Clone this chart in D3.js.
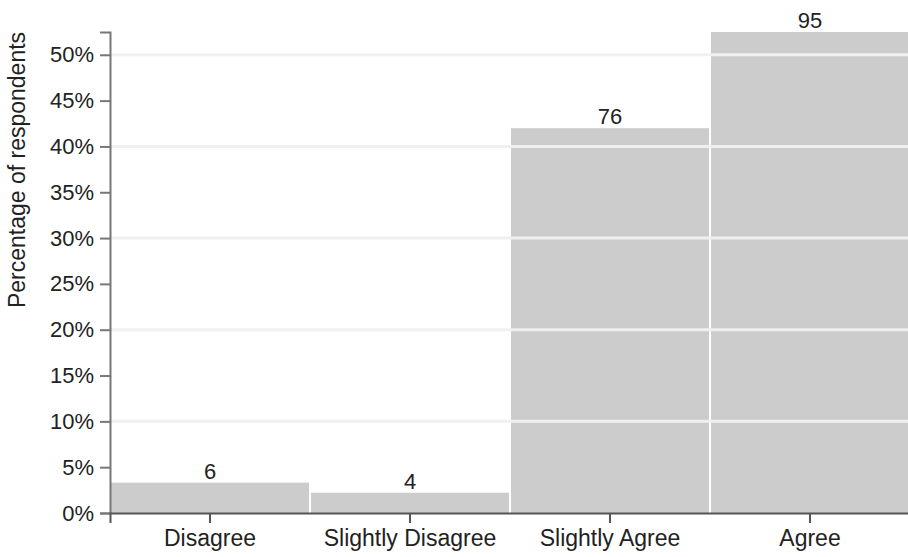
<!DOCTYPE html>
<html>
<head>
<meta charset="utf-8">
<script src="https://cdn.jsdelivr.net/npm/d3@7"></script>
<style>
  html, body { margin: 0; padding: 0; background: #fff; }
  svg { display: block; font-family: "Liberation Sans", Arial, sans-serif; }
</style>
</head>
<body>
<svg id="chart" width="908" height="557"></svg>
<script>
// Survey responses: number of respondents per answer
const categories = ["Disagree", "Slightly Disagree", "Slightly Agree", "Agree"];
const counts = [6, 4, 76, 95];
const yTickValues = [0, 0.05, 0.10, 0.15, 0.20, 0.25, 0.30, 0.35, 0.40, 0.45, 0.50];
const gridValues = [0.10, 0.20, 0.30, 0.40, 0.50];

const total = d3.sum(counts);
const data = categories.map((c, i) => ({ category: c, count: counts[i], share: counts[i] / total }));

const svg = d3.select("#chart");
const plotLeft = 110, plotRight = 910, plotTop = 32, plotBottom = 513;

const x = d3.scaleBand()
  .domain(categories)
  .range([plotLeft, plotRight])
  .paddingInner(0.01)
  .paddingOuter(0.005);

const y = d3.scaleLinear()
  .domain([0, d3.max(data, d => d.share)])
  .range([plotBottom, plotTop]);

// bars
svg.append("g")
  .selectAll("rect")
  .data(data)
  .join("rect")
  .attr("x", d => x(d.category))
  .attr("y", d => y(d.share))
  .attr("width", x.bandwidth())
  .attr("height", d => plotBottom - y(d.share))
  .attr("fill", "#cccccc");

// light grid lines drawn over the bars
svg.append("g")
  .selectAll("line")
  .data(gridValues)
  .join("line")
  .attr("x1", plotLeft)
  .attr("x2", plotRight)
  .attr("y1", d => y(d))
  .attr("y2", d => y(d))
  .attr("stroke", "#f0f0f0")
  .attr("stroke-width", 3);

// count labels above each bar
svg.append("g")
  .selectAll("text")
  .data(data)
  .join("text")
  .attr("x", d => x(d.category) + x.bandwidth() / 2)
  .attr("y", d => y(d.share) - 4)
  .attr("text-anchor", "middle")
  .attr("font-size", 22)
  .attr("fill", "#222")
  .text(d => d.count);

// y axis
const yAxis = svg.append("g")
  .attr("transform", `translate(${plotLeft},0)`)
  .call(d3.axisLeft(y).tickValues(yTickValues).tickFormat(d3.format(".0%")).tickSize(10).tickPadding(6));
yAxis.selectAll("path, line").attr("stroke", "#777").attr("stroke-width", 2);
yAxis.selectAll("text").attr("font-size", 22).attr("fill", "#222");
yAxis.attr("font-family", null);

// x axis
const xAxis = svg.append("g")
  .attr("transform", `translate(0,${plotBottom})`)
  .call(d3.axisBottom(x).tickSize(10).tickPadding(7));
xAxis.selectAll("path, line").attr("stroke", "#555").attr("stroke-width", 2);
xAxis.selectAll("text").attr("font-size", 23).attr("fill", "#222");
xAxis.attr("font-family", null);

// y axis title
svg.append("text")
  .attr("transform", "translate(25,170) rotate(-90)")
  .attr("text-anchor", "middle")
  .attr("font-size", 23)
  .attr("fill", "#222")
  .text("Percentage of respondents");
</script>
</body>
</html>
